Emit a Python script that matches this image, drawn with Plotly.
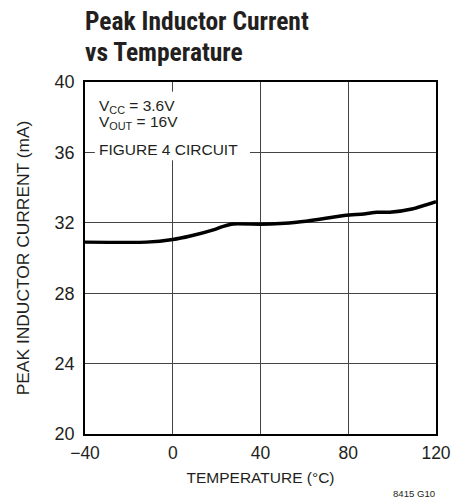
import plotly.graph_objects as go

temperature = [-40, -12, 0, 8, 18.5, 23, 27.6, 40, 49, 56.5, 67, 79, 87, 93, 99, 109.6, 120]
current_ma = [30.9, 30.9, 31.05, 31.25, 31.6, 31.8, 31.93, 31.92, 31.96, 32.03, 32.2, 32.43, 32.5, 32.6, 32.6, 32.8, 33.2]
x_ticks = [-40, 0, 40, 80, 120]
x_tick_labels = ["\u221240", "0", "40", "80", "120"]
y_ticks = [20, 24, 28, 32, 36, 40]
condition_lines = ["V<sub>CC</sub> = 3.6V", "V<sub>OUT</sub> = 16V", "FIGURE 4 CIRCUIT"]

FONT = "Liberation Sans, Arial, Helvetica, sans-serif"
TITLE_FONT = "Roboto Condensed, Liberation Sans Narrow, Arial Narrow, sans-serif"
INK = "#231f20"

fig = go.Figure()
fig.add_trace(go.Scatter(x=temperature, y=current_ma, mode="lines",
                         line=dict(color="black", width=3.4, shape="spline", smoothing=0.5),
                         showlegend=False, hoverinfo="skip"))

fig.update_xaxes(range=[-40, 120], tickvals=x_ticks, ticktext=x_tick_labels,
                 showgrid=True, gridcolor="#444444", gridwidth=1,
                 showline=True, linecolor="black", linewidth=1.6, mirror=True,
                 ticks="outside", ticklen=2, tickcolor="rgba(0,0,0,0)",
                 ticklabeloverflow="allow", automargin=False,
                 tickfont=dict(size=17.5, color=INK),
                 title=dict(text="TEMPERATURE (°C)", font=dict(size=15.5, color=INK), standoff=10),
                 zeroline=False)
fig.update_yaxes(range=[20, 40], tickvals=y_ticks,
                 showgrid=True, gridcolor="#444444", gridwidth=1,
                 showline=True, linecolor="black", linewidth=1.6, mirror=True,
                 ticks="outside", ticklen=5, tickcolor="rgba(0,0,0,0)",
                 ticklabeloverflow="allow", automargin=False,
                 tickfont=dict(size=18, color=INK),
                 title=dict(text="PEAK INDUCTOR CURRENT (mA)", font=dict(size=17.4, color=INK), standoff=20),
                 zeroline=False)

# white box behind the operating-conditions text
fig.add_shape(type="rect", xref="paper", yref="paper", x0=0.028, x1=0.47, y0=0.778, y1=0.972,
              fillcolor="white", line=dict(width=0), layer="above")
for txt, yy in zip(condition_lines, [0.929, 0.884, 0.808]):
    fig.add_annotation(xref="paper", yref="paper", x=0.033, y=yy, xanchor="left", yanchor="middle",
                       align="left", showarrow=False, text=txt,
                       font=dict(size=15.5, color=INK, family=FONT))

fig.add_annotation(xref="paper", yref="paper", x=-0.005, y=1.173, xanchor="left", yanchor="middle",
                   showarrow=False, text="<b>Peak Inductor Current</b>",
                   font=dict(size=25.5, color=INK, family=TITLE_FONT))
fig.add_annotation(xref="paper", yref="paper", x=-0.005, y=1.084, xanchor="left", yanchor="middle",
                   showarrow=False, text="<b>vs Temperature</b>",
                   font=dict(size=25.5, color=INK, family=TITLE_FONT))
fig.add_annotation(xref="paper", yref="paper", x=1.003, y=-0.168, xanchor="right", yanchor="middle",
                   showarrow=False, text="8415 G10",
                   font=dict(size=9.6, color=INK, family=FONT))

fig.update_layout(width=451, height=500, margin=dict(l=85, r=15, t=82, b=66),
                  paper_bgcolor="white", plot_bgcolor="white",
                  font=dict(family=FONT, color=INK))
fig.write_html("out.html", config={"displayModeBar": False},
               post_script="document.body.style.margin='0';document.body.style.overflow='hidden';")
